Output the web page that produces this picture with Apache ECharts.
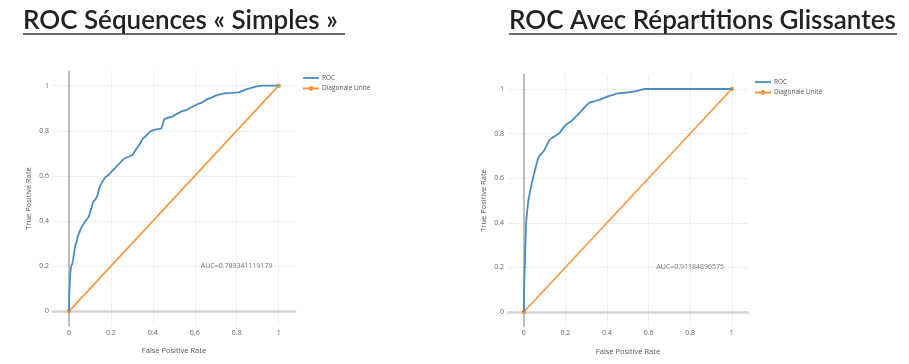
<!DOCTYPE html>
<html><head><meta charset="utf-8">
<script src="https://cdn.jsdelivr.net/npm/echarts@6/dist/echarts.min.js"></script>
<style>html,body{margin:0;padding:0;background:#fff}#c{width:909px;height:364px}</style>
</head><body><div id="c"></div>
<script>
const chartTitles = ['ROC Séquences « Simples »', 'ROC Avec Répartitions Glissantes'];
const tickValues = [0, 0.2, 0.4, 0.6, 0.8, 1];
const seriesNames = ['ROC', 'Diagonale Unité'];
const axisTitles = ['False Positive Rate', 'True Positive Rate'];
const aucLabels = ['AUC=0.789341119179', 'AUC=0.91184896575'];
const aucPoint = [0.8, 0.2];
const diagonal = [[0, 0], [1, 1]];
const rocSimple = [[0,0],[0.002,0.08],[0.005,0.15],[0.01,0.2],[0.016,0.21],[0.02,0.23],[0.025,0.26],[0.03,0.29],[0.037,0.31],[0.043,0.335],[0.05,0.35],[0.058,0.37],[0.065,0.38],[0.075,0.395],[0.087,0.41],[0.095,0.42],[0.1,0.435],[0.108,0.46],[0.115,0.485],[0.125,0.495],[0.135,0.51],[0.14,0.53],[0.148,0.555],[0.16,0.575],[0.175,0.595],[0.19,0.605],[0.207,0.623],[0.22,0.635],[0.239,0.653],[0.255,0.67],[0.27,0.68],[0.285,0.685],[0.303,0.693],[0.315,0.71],[0.327,0.727],[0.34,0.745],[0.351,0.764],[0.365,0.775],[0.38,0.79],[0.391,0.8],[0.41,0.805],[0.44,0.81],[0.448,0.83],[0.455,0.852],[0.475,0.858],[0.495,0.864],[0.515,0.875],[0.535,0.885],[0.555,0.89],[0.575,0.9],[0.595,0.91],[0.615,0.919],[0.635,0.925],[0.655,0.938],[0.68,0.947],[0.7,0.956],[0.725,0.962],[0.75,0.967],[0.78,0.968],[0.81,0.97],[0.83,0.978],[0.848,0.985],[0.87,0.99],[0.896,0.997],[0.92,1],[1,1]];
const rocGliss = [[0,0],[0.001,0.08],[0.003,0.15],[0.006,0.25],[0.009,0.34],[0.011,0.4],[0.016,0.45],[0.0225,0.504],[0.03,0.54],[0.039,0.58],[0.045,0.605],[0.051,0.624],[0.06,0.66],[0.0675,0.684],[0.075,0.7],[0.08,0.706],[0.09,0.715],[0.1,0.728],[0.112,0.75],[0.124,0.773],[0.135,0.78],[0.148,0.788],[0.16,0.795],[0.172,0.803],[0.185,0.82],[0.196,0.833],[0.21,0.845],[0.228,0.855],[0.245,0.872],[0.26,0.885],[0.275,0.9],[0.293,0.919],[0.305,0.93],[0.317,0.94],[0.34,0.945],[0.365,0.952],[0.385,0.96],[0.405,0.967],[0.425,0.972],[0.445,0.979],[0.47,0.982],[0.5,0.985],[0.54,0.99],[0.582,1],[1,1]];

const rocSets = [rocSimple, rocGliss];
const FONT = '"Open Sans", "DejaVu Sans", sans-serif';
const BLUE = '#4a8cc2', ORANGE = '#f7963c';
const grids = [
  {left: 53, top: 71, width: 242, height: 255, outerBoundsMode: 'none', containLabel: false},
  {left: 508, top: 74.5, width: 240, height: 252, outerBoundsMode: 'none', containLabel: false}
];
const legendPos = [{left: 302, top: 74.5}, {left: 754, top: 78.5}];
const titlePos = [{x: 23, x2: 345}, {x: 509, x2: 897}];

const xAxes = [], yAxes = [], series = [], legends = [], graphics = [];
grids.forEach((g, i) => {
  xAxes.push({
    type: 'value', gridIndex: i, min: -0.076, max: 1.078,
    name: axisTitles[0], nameLocation: 'middle', nameGap: 21,
    nameTextStyle: {fontFamily: FONT, fontSize: 7.5, color: '#555'},
    axisLine: {onZero: true, lineStyle: {color: '#d4d4d4', width: 2.5}},
    axisTick: {show: false, customValues: tickValues},
    axisLabel: {customValues: tickValues, margin: 3, fontFamily: FONT, fontSize: 7, color: '#666',
      formatter: v => String(v)},
    splitLine: {show: true, lineStyle: {color: '#efefef', width: 1}}
  });
  yAxes.push({
    type: 'value', gridIndex: i, min: -0.065, max: 1.065,
    name: axisTitles[1], nameLocation: 'middle', nameGap: 20,
    nameTextStyle: {fontFamily: FONT, fontSize: 7.5, color: '#555'},
    axisLine: {show: true, onZero: true, lineStyle: {color: '#aaaaaa', width: 1.5}},
    axisTick: {show: false, customValues: tickValues},
    axisLabel: {customValues: tickValues, margin: 4, fontFamily: FONT, fontSize: 7, color: '#666',
      formatter: v => String(v)},
    splitLine: {show: true, lineStyle: {color: '#efefef', width: 1}}
  });
  series.push({
    name: seriesNames[0], type: 'line', xAxisIndex: i, yAxisIndex: i,
    data: rocSets[i], symbol: 'none', smooth: false,
    lineStyle: {color: BLUE, width: 1.8}, itemStyle: {color: BLUE}, z: 3
  });
  series.push({
    name: seriesNames[1], type: 'line', xAxisIndex: i, yAxisIndex: i,
    data: diagonal, symbol: 'circle', symbolSize: 4.5, showSymbol: true,
    lineStyle: {color: ORANGE, width: 1.6}, itemStyle: {color: ORANGE}, z: 2
  });
  series.push({
    type: 'scatter', xAxisIndex: i, yAxisIndex: i, symbolSize: 0, silent: true,
    data: [aucPoint],
    label: {show: true, position: 'inside', formatter: aucLabels[i],
      fontFamily: FONT, fontSize: 7, color: '#555'}
  });
  legends.push({
    orient: 'vertical', left: legendPos[i].left, top: legendPos[i].top,
    data: [{name: seriesNames[0], icon: 'path://M0,0L16,0L16,1.8L0,1.8Z'}, {name: seriesNames[1]}],
    itemWidth: 16, itemHeight: 6, itemGap: 3.5, padding: 0, symbolKeepAspect: true,
    textStyle: {fontFamily: FONT, fontSize: 6.5, color: '#555', padding: [0, 0, 0, -2]}
  });
  graphics.push({
    type: 'text', left: titlePos[i].x, top: 8,
    style: {text: chartTitles[i], font: '600 26px Lato, "Open Sans", sans-serif', fill: '#222'}
  });
  graphics.push({
    type: 'line', shape: {x1: titlePos[i].x, y1: 34, x2: titlePos[i].x2, y2: 34},
    style: {stroke: '#3a3a3a', lineWidth: 1.5}
  });
});

const chart = echarts.init(document.getElementById('c'), null, {renderer: 'canvas'});
chart.setOption({
  animation: false,
  backgroundColor: '#fff',
  grid: grids, xAxis: xAxes, yAxis: yAxes, series: series, legend: legends,
  graphic: graphics
});
</script></body></html>
